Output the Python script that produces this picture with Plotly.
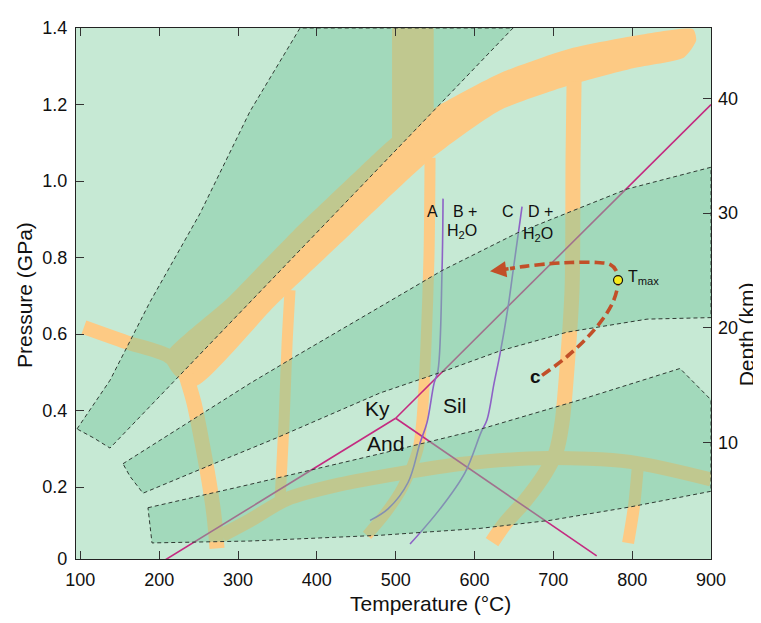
import plotly.graph_objects as go

# ---------------- data (temperature in deg C, pressure in GPa) ----------------
# green metamorphic-facies fields (dashed outlines)
band1_T = [95.8, 137.6, 188.4, 251.8, 315.2, 378.7, 648.9, 137.6, 117.3, 95.8]
band1_P = [0.352, 0.479, 0.684, 0.915, 1.182, 1.400, 1.400, 0.302, 0.328, 0.352]

band2_T = [154.1, 235.3, 315.2, 369.8, 558.8, 654.0, 793.5, 900.0, 900.0, 818.9,
           717.4, 632.4, 560.1, 480.2, 348.2, 264.5, 179.5, 163.0, 154.1]
band2_P = [0.261, 0.366, 0.471, 0.538, 0.766, 0.864, 0.979, 1.036, 0.643, 0.639,
           0.605, 0.556, 0.502, 0.446, 0.328, 0.257, 0.184, 0.228, 0.261]

band3_T = [185.8, 315.2, 480.2, 607.0, 733.9, 860.7, 900.0, 900.0, 797.3, 695.8,
           607.0, 480.2, 315.2, 190.9, 185.8]
band3_P = [0.146, 0.207, 0.287, 0.351, 0.428, 0.510, 0.428, 0.189, 0.148, 0.113,
           0.092, 0.074, 0.059, 0.054, 0.146]

# orange facies-boundary bands
diag_T = [220.1, 207.4, 286.1, 369.8, 454.8, 495.4, 552.5, 632.4, 717.4, 801.1, 877.3,
          881.2, 865.8, 801.1, 721.2, 632.4, 543.6, 442.1, 348.2, 246.7, 220.1]
diag_P = [0.492, 0.543, 0.692, 0.869, 1.036, 1.113, 1.195, 1.282, 1.344, 1.379, 1.397,
          1.367, 1.323, 1.295, 1.251, 1.185, 1.056, 0.861, 0.677, 0.464, 0.492]
wide_T = [495.4, 548.3, 548.3, 495.4, 495.4]
wide_P = [1.400, 1.400, 1.151, 1.087, 1.400]

arm_T = [104.6, 157.9, 211.2, 232.7]
arm_P = [0.618, 0.579, 0.543, 0.502]
down_T = [234.0, 244.2, 254.3, 263.2, 269.6, 273.4]
down_P = [0.492, 0.420, 0.317, 0.215, 0.125, 0.040]
v360_T = [366.0, 362.2, 358.4, 353.3]
v360_P = [0.715, 0.574, 0.369, 0.163]
v540_T = [543.6, 542.3, 538.5, 533.4, 528.4, 518.2, 505.5, 486.5, 463.7]
v540_P = [1.061, 0.805, 0.574, 0.376, 0.300, 0.241, 0.187, 0.130, 0.074]
arc_T = [279.7, 315.2, 362.2, 429.4, 505.5, 585.4, 692.0, 797.3, 900.1]
arc_P = [0.074, 0.113, 0.169, 0.207, 0.236, 0.261, 0.276, 0.266, 0.220]
v720_T = [726.3, 725.0, 723.8, 718.7, 711.1, 703.5, 689.5, 664.1, 638.8, 622.2]
v720_P = [1.261, 1.061, 0.720, 0.548, 0.369, 0.292, 0.236, 0.164, 0.105, 0.056]
v800_T = [807.5, 802.4, 794.8]
v800_P = [0.261, 0.151, 0.054]

# Al2SiO5 phase diagram
triple_T, triple_P = 500, 0.38
kysil_T = [triple_T, 900]
kysil_P = [triple_P, 1.20]
kyand_T = [triple_T, 200]
kyand_P = [triple_P, 0.0]
andsil_T = [triple_T, 755]
andsil_P = [triple_P, 0.02]

# dehydration reactions A = B + H2O and C = D + H2O
reactAB_T = [560.1, 558.8, 553.7, 548.7, 539.8, 530.9, 515.7, 490.3, 467.5]
reactAB_P = [0.954, 0.766, 0.505, 0.471, 0.369, 0.315, 0.212, 0.143, 0.113]
reactCD_T = [660.3, 649.0, 642.6, 632.4, 624.8, 615.9, 608.3, 588.0, 556.3, 518.2]
reactCD_P = [0.933, 0.766, 0.671, 0.548, 0.471, 0.376, 0.343, 0.238, 0.143, 0.051]

# P-T path c
path_T = [685.7, 721.2, 755.5, 775.7, 782.1, 779.6, 771.9, 755.5, 721.2, 695.8, 664.1, 645.1]
path_P = [0.492, 0.548, 0.620, 0.684, 0.736, 0.766, 0.782, 0.787, 0.787, 0.784, 0.777, 0.771]
arrow_tip_T, arrow_tip_P = 619.7, 0.764
tmax_T, tmax_P = 782.1, 0.741

# text labels: (text, T, P, size)
labels = [
    ("A", 546.1, 0.920, 16), ("B +", 587.5, 0.920, 16), ("H<sub>2</sub>O", 584.2, 0.869, 16),
    ("C", 641.9, 0.920, 16), ("D +", 683.8, 0.920, 16), ("H<sub>2</sub>O", 680.6, 0.860, 16),
    ("Ky", 477.0, 0.405, 21), ("And", 486.5, 0.313, 21), ("Sil", 574.6, 0.412, 21),
    ("<b>c</b>", 676.8, 0.490, 19),
]
tmax_label = ("T<sub>max</sub>", 792.2, 0.748)

x_ticks = [100, 200, 300, 400, 500, 600, 700, 800, 900]
y_tickvals = [0.012, 0.2, 0.4, 0.6, 0.8, 1.0, 1.2, 1.4]
y_ticktext = ["0", "0.2", "0.4", "0.6", "0.8", "1.0", "1.2", "1.4"]
depth_ticks = [10, 20, 30, 40]

# ---------------- styling ----------------
FONT = "Liberation Sans, Arial, Helvetica, sans-serif"
ORANGE = "#fdca84"
BG = "#c6e9d4"
GREEN_FILL = "rgba(120,199,156,0.46)"
MAGENTA = "#c42a80"
PURPLE = "#8d62c6"
PATH = "#c24f28"

fig = go.Figure()


def poly(T, P, color, smooth=False):
    line = dict(width=0, color=color)
    if smooth:
        line.update(shape="spline", smoothing=0.6)
    fig.add_trace(go.Scatter(x=T, y=P, mode="lines", fill="toself", fillcolor=color,
                             line=line, hoverinfo="skip", showlegend=False))


def band(T, P, w):
    fig.add_trace(go.Scatter(x=T, y=P, mode="lines",
                             line=dict(color=ORANGE, width=w, shape="spline", smoothing=0.8),
                             hoverinfo="skip", showlegend=False))


# orange bands
poly(diag_T, diag_P, ORANGE, smooth=True)
poly(wide_T, wide_P, ORANGE)
band(arm_T, arm_P, 14)
band(down_T, down_P, 15)
band(v360_T, v360_P, 11)
band(v540_T, v540_P, 11)
band(arc_T, arc_P, 14)
band(v720_T, v720_P, 15)
band(v800_T, v800_P, 12)

# phase-diagram lines
for T, P in [(kysil_T, kysil_P), (kyand_T, kyand_P), (andsil_T, andsil_P)]:
    fig.add_trace(go.Scatter(x=T, y=P, mode="lines", line=dict(color=MAGENTA, width=1.6),
                             hoverinfo="skip", showlegend=False))
for T, P in [(reactAB_T, reactAB_P), (reactCD_T, reactCD_P)]:
    fig.add_trace(go.Scatter(x=T, y=P, mode="lines",
                             line=dict(color=PURPLE, width=1.6, shape="spline"),
                             hoverinfo="skip", showlegend=False))

# green facies fields on top (semi-transparent) with dashed outlines
for T, P in [(band1_T, band1_P), (band2_T, band2_P), (band3_T, band3_P)]:
    fig.add_trace(go.Scatter(x=T, y=P, mode="lines", fill="toself", fillcolor=GREEN_FILL,
                             line=dict(color="#2f3a33", width=1, dash="4px,3px"),
                             hoverinfo="skip", showlegend=False))

# P-T path
fig.add_trace(go.Scatter(x=path_T, y=path_P, mode="lines",
                         line=dict(color=PATH, width=3.6, dash="10px,5px", shape="spline"),
                         hoverinfo="skip", showlegend=False))
fig.add_annotation(x=arrow_tip_T, y=arrow_tip_P, ax=path_T[-1], ay=path_P[-1],
                   xref="x", yref="y", axref="x", ayref="y", text="", showarrow=True,
                   arrowhead=2, arrowsize=0.9, arrowwidth=3.6, arrowcolor=PATH, standoff=0)
fig.add_trace(go.Scatter(x=[tmax_T], y=[tmax_P], mode="markers",
                         marker=dict(size=9, color="#f6ea1e", line=dict(color="#111", width=1.2)),
                         hoverinfo="skip", showlegend=False))

# empty trace so that the depth axis is drawn
fig.add_trace(go.Scatter(x=[], y=[], yaxis="y2", showlegend=False, hoverinfo="skip"))

for txt, T, P, size in labels:
    fig.add_annotation(x=T, y=P, text=txt, showarrow=False, xref="x", yref="y",
                       font=dict(family=FONT, size=size, color="#111"))
fig.add_annotation(x=tmax_label[1], y=tmax_label[2], text=tmax_label[0], showarrow=False,
                   xanchor="left", font=dict(family=FONT, size=16, color="#111"))

# axis titles
fig.add_annotation(x=0.5575, y=-0.083, xref="paper", yref="paper", text="Temperature (°C)",
                   xanchor="center", yanchor="middle", showarrow=False,
                   font=dict(family=FONT, size=21, color="#111"))
fig.add_annotation(x=-0.082, y=0.497, xref="paper", yref="paper", text="Pressure (GPa)",
                   xanchor="center", yanchor="middle", textangle=-90, showarrow=False,
                   font=dict(family=FONT, size=21, color="#111"))
fig.add_annotation(x=1.055, y=0.423, xref="paper", yref="paper", text="Depth (km)",
                   xanchor="center", yanchor="middle", textangle=-90, showarrow=False,
                   font=dict(family=FONT, size=21, color="#111"))

fig.update_layout(
    width=753, height=615, autosize=False,
    margin=dict(l=68, r=50, t=10, b=64),
    paper_bgcolor="white", plot_bgcolor=BG,
    font=dict(family=FONT, size=18, color="#111"),
    showlegend=False,
    xaxis=dict(range=[94.5, 900], tickvals=x_ticks, ticks="inside", ticklen=8, tickwidth=1,
               tickcolor="#333", showline=True, linecolor="#222", linewidth=1.3,
               mirror="ticks", showgrid=False, zeroline=False, ticklabelstandoff=4,
               tickfont=dict(size=18)),
    yaxis=dict(range=[0.012, 1.4], tickvals=y_tickvals, ticktext=y_ticktext, ticks="inside",
               ticklen=8, tickwidth=1, tickcolor="#333", showline=True, linecolor="#222",
               linewidth=1.3, mirror=True, showgrid=False, zeroline=False,
               ticklabelstandoff=4, tickfont=dict(size=18)),
    yaxis2=dict(range=[-0.2, 46.17], overlaying="y", side="right", tickvals=depth_ticks,
                ticks="inside", ticklen=8, tickwidth=1, tickcolor="#333", showline=False,
                showgrid=False, zeroline=False, ticklabelstandoff=6, tickfont=dict(size=18)),
)

fig.write_html("out.html")
